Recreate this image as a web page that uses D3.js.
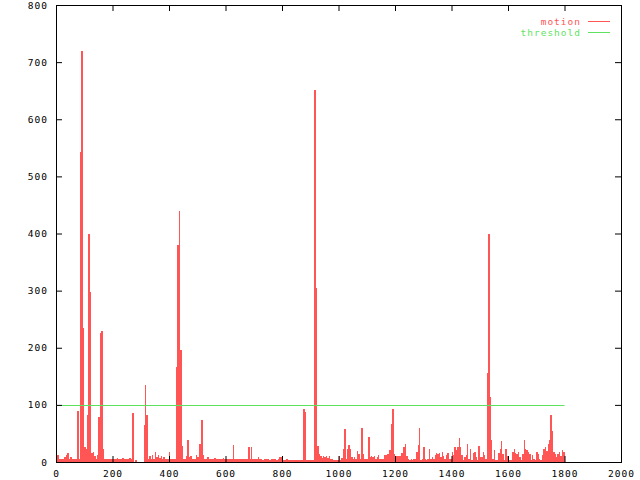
<!DOCTYPE html>
<html>
<head>
<meta charset="utf-8">
<script src="https://cdn.jsdelivr.net/npm/d3@7"></script>
<style>
  html, body { margin: 0; padding: 0; background: #fff; }
  svg { display: block; }
  text { font-family: "DejaVu Sans Mono", "Liberation Mono", monospace; font-size: 9.5px; letter-spacing: 1px; }
</style>
</head>
<body>
<svg id="chart" width="640" height="480"></svg>
<script>
// ---- data ----
const frameStep = 5;           // frames per sample bin
const motion = [
  5,12,5,5,6,5,8,12,16,6,8,5,5,6,5,89,6,543,719,235,
  27,23,82,400,298,16,18,10,5,12,79,226,229,23,5,6,5,5,6,5,
  5,6,5,7,5,6,5,7,5,6,5,5,7,6,86,0,3,0,0,0,
  0,0,65,135,83,5,10,6,12,6,18,8,12,7,10,6,8,5,6,5,
  18,5,6,5,5,167,380,439,196,28,5,6,10,38,8,10,6,5,6,12,
  8,32,32,74,12,6,5,8,5,5,6,5,7,5,5,6,5,5,7,5,
  5,6,5,5,6,30,5,5,6,5,5,6,5,5,6,5,26,5,26,5,
  5,6,5,8,5,5,4,5,6,5,5,4,5,5,6,5,4,5,8,8,
  5,4,4,5,4,3,3,4,3,3,3,4,3,3,3,93,88,3,4,3,
  3,4,3,651,305,28,14,10,7,10,8,10,7,10,6,5,4,3,3,3,
  10,4,7,23,58,5,23,30,23,8,6,8,5,20,14,6,60,14,6,5,
  6,44,8,10,8,10,6,8,12,5,5,5,12,12,14,14,21,66,93,14,
  8,10,10,10,15,16,27,32,10,6,4,5,4,5,6,18,29,60,4,5,
  26,5,4,5,23,5,8,6,12,16,14,16,8,18,10,6,12,16,6,5,
  18,12,27,21,26,42,26,12,4,8,12,32,5,23,3,16,18,8,4,28,
  8,8,18,12,5,156,400,114,38,5,21,4,4,16,22,37,14,4,23,10,
  7,4,4,17,23,16,14,18,8,4,14,38,23,21,18,14,4,12,5,4,
  18,14,6,4,12,23,26,20,32,38,83,54,18,14,8,14,18,10,21,18
];
const thresholdValue = 100;
const thresholdSpan = [0, 1800];
const xTicks = [0, 200, 400, 600, 800, 1000, 1200, 1400, 1600, 1800, 2000];
const yTicks = [0, 100, 200, 300, 400, 500, 600, 700, 800];
const seriesNames = ["motion", "threshold"];
const seriesColors = ["#ff5555", "#5fe35f"];

// ---- layout ----
const L = 56, R = 621, T = 5, B = 462;
const FONT = '"DejaVu Sans Mono", "Liberation Mono", monospace';
const svg = d3.select("#chart");
svg.append("rect").attr("width", 640).attr("height", 480).attr("fill", "#fff");

const x = d3.scaleLinear().domain([0, 2000]).range([L, R]);
const y = d3.scaleLinear().domain([0, 800]).range([B, T]);

// border
svg.append("rect")
  .attr("x", L + 0.5).attr("y", T + 0.5)
  .attr("width", R - L).attr("height", B - T)
  .attr("fill", "none").attr("stroke", "#000").attr("stroke-width", 1);

// motion bars
const bins = motion.map((v, i) => ({ x0: i * frameStep, x1: (i + 1) * frameStep, v }));
svg.append("g").attr("shape-rendering", "crispEdges")
  .selectAll("rect").data(bins).join("rect")
  .attr("x", d => x(d.x0))
  .attr("width", d => x(d.x1) - x(d.x0))
  .attr("y", d => y(d.v))
  .attr("height", d => y(0) - y(d.v))
  .attr("fill", seriesColors[0]);

// threshold line
const ty = Math.round(y(thresholdValue)) + 0.5;
svg.append("line")
  .attr("x1", x(thresholdSpan[0])).attr("x2", x(thresholdSpan[1]))
  .attr("y1", ty).attr("y2", ty)
  .attr("stroke", seriesColors[1]).attr("stroke-width", 1);

// axes
function styleAxis(g) {
  g.select(".domain").remove();
  g.selectAll(".tick line").attr("stroke", "#000");
  g.selectAll(".tick text").attr("fill", "#000")
    .style("font-family", FONT)
    .style("font-size", "9.5px")
    .style("letter-spacing", "1px");
}
svg.append("g").attr("transform", `translate(0,${B})`)
  .call(d3.axisBottom(x).tickValues(xTicks).tickSize(-6).tickPadding(8).tickFormat(d3.format("d")))
  .call(styleAxis);
svg.append("g").attr("transform", `translate(0,${T})`)
  .call(d3.axisTop(x).tickValues(xTicks).tickSize(-6).tickFormat(""))
  .call(styleAxis);
svg.append("g").attr("transform", `translate(${L},0)`)
  .call(d3.axisLeft(y).tickValues(yTicks).tickSize(-6).tickPadding(8).tickFormat(d3.format("d")))
  .call(styleAxis);
svg.append("g").attr("transform", `translate(${R},0)`)
  .call(d3.axisRight(y).tickValues(yTicks).tickSize(-6).tickFormat(""))
  .call(styleAxis);

// legend
const legend = svg.append("g");
seriesNames.forEach((name, i) => {
  const ly = 22 + i * 11;
  legend.append("text")
    .attr("x", 581).attr("y", ly).attr("dy", "0.35em")
    .attr("text-anchor", "end").attr("fill", seriesColors[i]).text(name);
  legend.append("line")
    .attr("x1", 588).attr("x2", 610)
    .attr("y1", ly - 0.5).attr("y2", ly - 0.5)
    .attr("stroke", seriesColors[i]).attr("stroke-width", 1);
});
</script>
</body>
</html>
